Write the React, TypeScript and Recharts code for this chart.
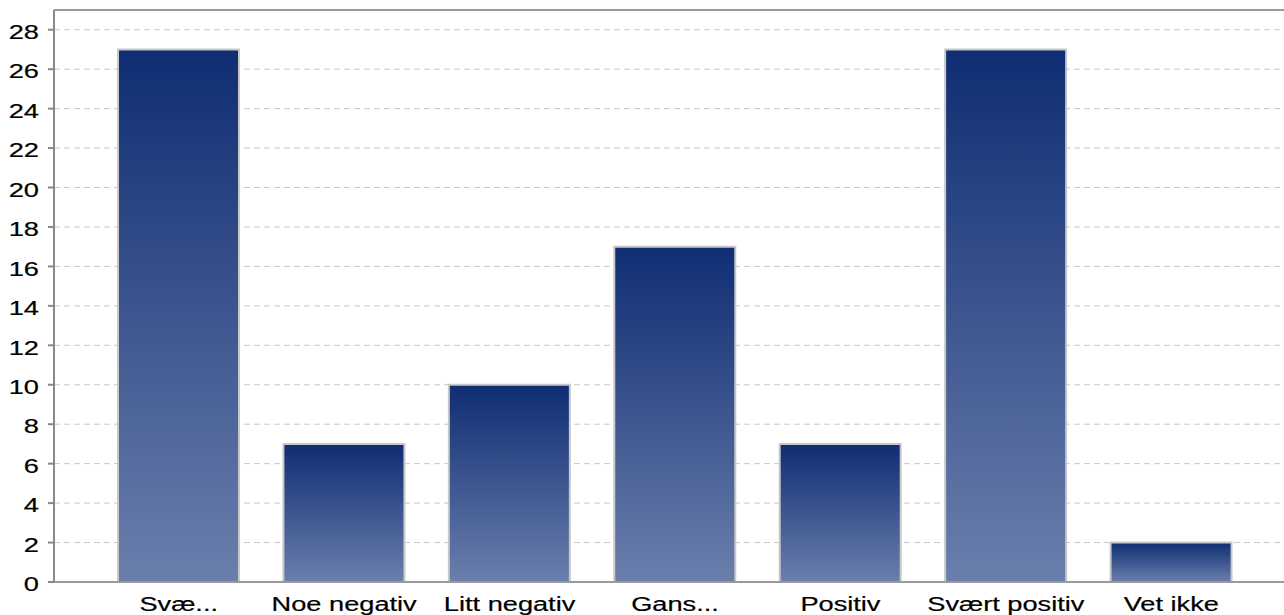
import React from 'react';
import { BarChart, Bar, XAxis, YAxis, CartesianGrid, ReferenceLine } from 'recharts';

const categories = ['Svæ...', 'Noe negativ', 'Litt negativ', 'Gans...', 'Positiv', 'Svært positiv', 'Vet ikke'];
const values = [27, 7, 10, 17, 7, 27, 2];
const yTicks = [0, 2, 4, 6, 8, 10, 12, 14, 16, 18, 20, 22, 24, 26, 28];

const data = categories.map((name, i) => ({ name, value: values[i] }));

const FONT = '"Liberation Sans", Arial, sans-serif';
const SX = 1.36;

const XTick = (props: any) => {
  const { x, y, payload } = props;
  return (
    <g transform={`translate(${x},${y})`}>
      <text x={0} y={0} dy={29} textAnchor="middle" fontSize={20} fontFamily={FONT} fill="#000" stroke="#000" strokeWidth={0.2} transform={`scale(${SX},1)`}>
        {payload.value}
      </text>
    </g>
  );
};

const YTick = (props: any) => {
  const { x, y, payload } = props;
  return (
    <g transform={`translate(${x},${y})`}>
      <text x={0} y={0} dy={9.2} textAnchor="end" fontSize={20} fontFamily={FONT} fill="#000" stroke="#000" strokeWidth={0.2} transform={`scale(${SX},1)`}>
        {payload.value}
      </text>
    </g>
  );
};

export default function App() {
  return (
    <div style={{ position: 'absolute', left: 0, top: 0, width: 1284, height: 615, overflow: 'hidden', background: '#fff' }}>
      <BarChart width={1296} height={615} data={data} margin={{ top: 10, right: 0, left: 0, bottom: 0 }}>
        <defs>
          <linearGradient id="barGrad" x1="0" y1="0" x2="0" y2="1">
            <stop offset="0%" stopColor="#0f2d73" />
            <stop offset="100%" stopColor="#6b7fac" />
          </linearGradient>
        </defs>
        <CartesianGrid vertical={false} stroke="#c8c8c8" strokeDasharray="6 4" />
        <ReferenceLine y={29} stroke="#9a9a9a" strokeWidth={2} />
        <XAxis
          dataKey="name"
          height={33}
          padding={{ left: 42, right: 42 }}
          tickLine={false}
          tickSize={0}
          tickMargin={0}
          axisLine={{ stroke: '#9a9a9a', strokeWidth: 2 }}
          tick={<XTick />}
          interval={0}
        />
        <YAxis
          width={54}
          domain={[0, 29]}
          ticks={yTicks}
          interval={0}
          tickSize={6}
          tickMargin={9}
          tickLine={{ stroke: '#888', strokeWidth: 2 }}
          axisLine={{ stroke: '#888', strokeWidth: 2 }}
          tick={<YTick />}
        />
        <Bar dataKey="value" barSize={121} fill="url(#barGrad)" stroke="#c8c8c8" strokeWidth={2} isAnimationActive={false} />
      </BarChart>
    </div>
  );
}
